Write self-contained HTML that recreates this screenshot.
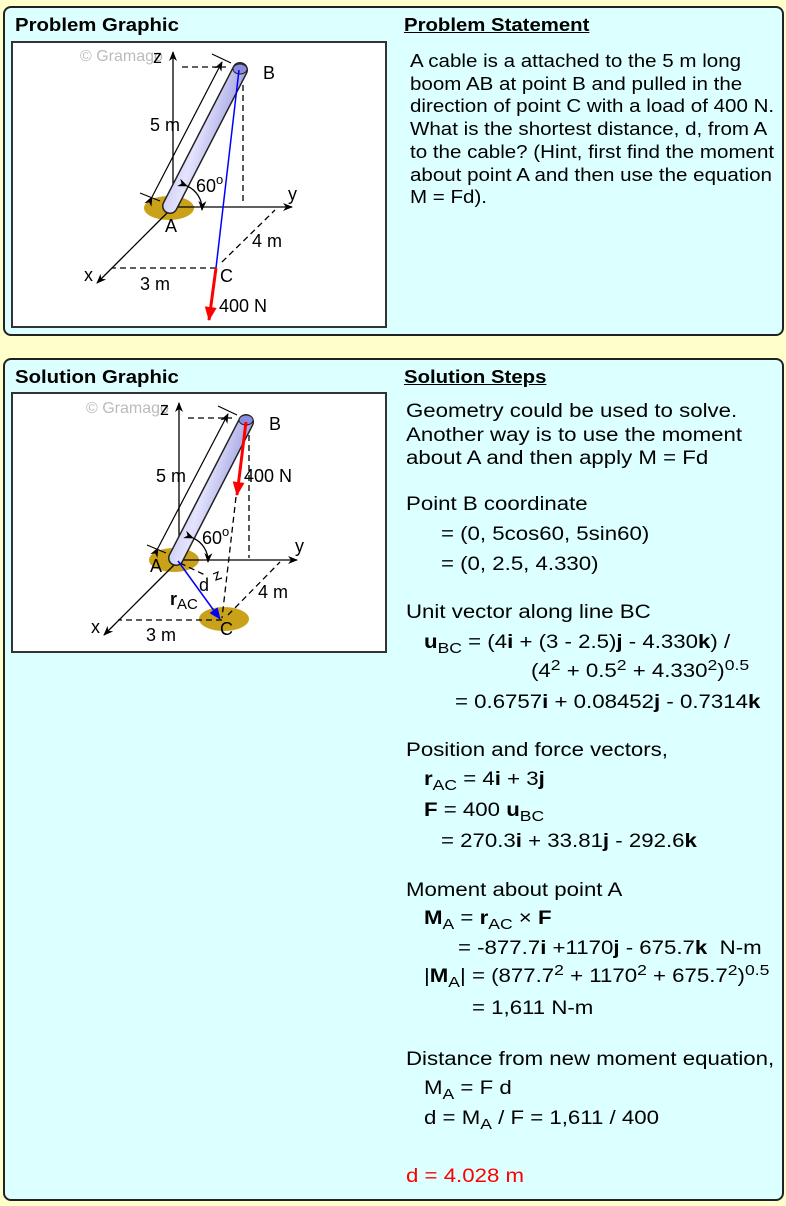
<!DOCTYPE html>
<html><head><meta charset="utf-8"><style>
body{margin:0;width:786px;height:1206px;background:#ffffcc;position:relative;overflow:hidden;font-family:"Liberation Sans",Arial,sans-serif;color:#000}
.p{position:absolute;background:#dcffff;border:2px solid #222;border-radius:8px;box-sizing:border-box}
.h{position:absolute;font-weight:bold;font-size:18px;line-height:20px;white-space:nowrap;transform:scaleX(1.13);transform-origin:0 0}
.u{text-decoration:underline}
.l{position:absolute;font-size:19px;line-height:22px;white-space:nowrap;transform:scaleX(1.17);transform-origin:0 0}
.ps{transform:scaleX(1.11)}
sub{font-size:15px;vertical-align:-5px;line-height:0}
sup{font-size:15px;vertical-align:7px;line-height:0}
.box{position:absolute;background:#fff;border:2px solid #333;box-sizing:border-box}
svg{position:absolute;left:0;top:0}
</style></head><body>
<div class="p" style="left:3px;top:6px;width:781px;height:330px"></div>
<div class="p" style="left:3px;top:358px;width:781px;height:843px"></div>
<div class="h" style="left:15px;top:15px">Problem Graphic</div>
<div class="h u" style="left:404px;top:15px">Problem Statement</div>
<div class="h" style="left:15px;top:367px">Solution Graphic</div>
<div class="h u" style="left:404px;top:367px">Solution Steps</div>
<div class="box" style="left:11px;top:41px;width:376px;height:287px"></div>
<div class="box" style="left:11px;top:392px;width:376px;height:261px"></div>

<svg width="786" height="1206" viewBox="0 0 786 1206" font-family="Liberation Sans, Arial, sans-serif" font-size="18">
<defs>
<marker id="ak" markerWidth="10" markerHeight="8" refX="9" refY="4" orient="auto" markerUnits="userSpaceOnUse"><path d="M0,0 L10,4 L0,8 L3,4z" fill="#000"/></marker>
<marker id="ar" markerWidth="14" markerHeight="12" refX="13" refY="6" orient="auto" markerUnits="userSpaceOnUse"><path d="M0,0 L14,6 L0,12z" fill="#f00"/></marker>
<marker id="ab" markerWidth="12" markerHeight="10" refX="11" refY="5" orient="auto" markerUnits="userSpaceOnUse"><path d="M0,0 L12,5 L0,10z" fill="#00f"/></marker>
<linearGradient id="rod" x1="0" y1="0" x2="1" y2="0.5"><stop offset="0" stop-color="#b0b0e8"/><stop offset="0.5" stop-color="#e4e4ff"/><stop offset="1" stop-color="#9090d8"/></linearGradient>
</defs>
<!-- Problem graphic -->
<g>
<text x="80" y="61" fill="#bbb" font-size="16">© Gramago</text>
<ellipse cx="169" cy="208" rx="25" ry="12" fill="#c9a21a"/>
<line x1="173" y1="207" x2="173" y2="52" stroke="#000" stroke-width="1.3" marker-end="url(#ak)"/>
<line x1="173" y1="207" x2="292" y2="207" stroke="#000" stroke-width="1.3" marker-end="url(#ak)"/>
<line x1="170" y1="210" x2="97" y2="283" stroke="#000" stroke-width="1.3" marker-end="url(#ak)"/>
<text x="153" y="63">z</text>
<text x="288" y="200">y</text>
<text x="84" y="281">x</text>
<g stroke="#000" stroke-width="1.3" stroke-dasharray="6,4" fill="none">
<line x1="182" y1="67" x2="226" y2="67"/>
<line x1="243" y1="85" x2="243" y2="205"/>
<line x1="216" y1="268" x2="112" y2="268"/>
<line x1="222" y1="262" x2="275" y2="210"/>
</g>
<line x1="152" y1="197" x2="222" y2="62" stroke="#000" stroke-width="1.2" marker-end="url(#ak)" marker-start="url(#ak)"/>
<line x1="140" y1="193" x2="160" y2="201" stroke="#000" stroke-width="1.2"/>
<line x1="212" y1="54" x2="231" y2="63" stroke="#000" stroke-width="1.2"/>
<line x1="170" y1="206" x2="240" y2="70" stroke="#222" stroke-width="16" stroke-linecap="round"/>
<line x1="170" y1="206" x2="240" y2="70" stroke="url(#rod)" stroke-width="13" stroke-linecap="round"/>
<ellipse cx="240" cy="69" rx="7" ry="5" fill="#8c8ce0" stroke="#222"/>
<path d="M187,186 A25,25 0 0 1 202,210" fill="none" stroke="#000" stroke-width="1.3" marker-end="url(#ak)" marker-start="url(#ak)"/>
<text x="196" y="192">60</text><text x="216" y="184" font-size="13">o</text>
<line x1="239" y1="70" x2="216" y2="268" stroke="#00f" stroke-width="1.5"/>
<line x1="216" y1="268" x2="209" y2="320" stroke="#f00" stroke-width="3" marker-end="url(#ar)"/>
<text x="263" y="79">B</text>
<text x="165" y="232">A</text>
<text x="220" y="282">C</text>
<text x="150" y="131">5 m</text>
<text x="252" y="247">4 m</text>
<text x="140" y="290">3 m</text>
<text x="219" y="312">400 N</text>
</g>
<!-- Solution graphic -->
<g>
<text x="86" y="413" fill="#bbb" font-size="16">© Gramago</text>
<ellipse cx="174" cy="560" rx="25" ry="12" fill="#c9a21a"/>
<ellipse cx="224" cy="619" rx="25" ry="12" fill="#c9a21a"/>
<line x1="179" y1="560" x2="179" y2="403" stroke="#000" stroke-width="1.3" marker-end="url(#ak)"/>
<line x1="179" y1="560" x2="297" y2="560" stroke="#000" stroke-width="1.3" marker-end="url(#ak)"/>
<line x1="176" y1="563" x2="104" y2="635" stroke="#000" stroke-width="1.3" marker-end="url(#ak)"/>
<text x="160" y="415">z</text>
<text x="295" y="552">y</text>
<text x="91" y="633">x</text>
<g stroke="#000" stroke-width="1.3" stroke-dasharray="6,4" fill="none">
<line x1="188" y1="418" x2="232" y2="418"/>
<line x1="249" y1="435" x2="249" y2="558"/>
<line x1="222" y1="620" x2="118" y2="620"/>
<line x1="228" y1="615" x2="280" y2="562"/>
<line x1="236" y1="497" x2="222" y2="618"/>
<line x1="180" y1="563" x2="205" y2="575"/>
</g>
<path d="M213,574 L218,572 L216,580 L222,578" fill="none" stroke="#000" stroke-width="1.2"/>
<line x1="158" y1="548" x2="228" y2="414" stroke="#000" stroke-width="1.2" marker-end="url(#ak)" marker-start="url(#ak)"/>
<line x1="147" y1="545" x2="166" y2="553" stroke="#000" stroke-width="1.2"/>
<line x1="218" y1="406" x2="237" y2="415" stroke="#000" stroke-width="1.2"/>
<line x1="176" y1="558" x2="246" y2="422" stroke="#222" stroke-width="16" stroke-linecap="round"/>
<line x1="176" y1="558" x2="246" y2="422" stroke="url(#rod)" stroke-width="13" stroke-linecap="round"/>
<ellipse cx="246" cy="420" rx="7" ry="5" fill="#8c8ce0" stroke="#222"/>
<path d="M193,538 A25,25 0 0 1 208,562" fill="none" stroke="#000" stroke-width="1.3" marker-end="url(#ak)" marker-start="url(#ak)"/>
<text x="202" y="544">60</text><text x="222" y="536" font-size="13">o</text>
<line x1="246" y1="422" x2="237" y2="495" stroke="#f00" stroke-width="3" marker-end="url(#ar)"/>
<line x1="178" y1="561" x2="220" y2="619" stroke="#00f" stroke-width="1.5" marker-end="url(#ab)"/>
<text x="269" y="430">B</text>
<text x="150" y="572">A</text>
<text x="220" y="635">C</text>
<text x="156" y="482">5 m</text>
<text x="258" y="598">4 m</text>
<text x="146" y="641">3 m</text>
<text x="244" y="482">400 N</text>
<text x="199" y="591">d</text>
<text x="170" y="605" font-weight="bold">r</text><text x="177" y="609" font-size="15">AC</text>
</g>
</svg>

<div class="l ps" style="left:410px;top:50px;line-height:22.7px;font-size:18.5px">A cable is a attached to the 5 m long<br>boom AB at point B and pulled in the<br>direction of point C with a load of 400 N.<br>What is the shortest distance, d, from A<br>to the cable? (Hint, first find the moment<br>about point A and then use the equation<br>M = Fd).</div>

<div class="l" style="left:406px;top:400px;line-height:23.5px">Geometry could be used to solve.<br>Another way is to use the moment<br>about A and then apply M = Fd</div>
<div class="l" style="left:406px;top:494px">Point B coordinate</div>
<div class="l" style="left:441px;top:524px">= (0, 5cos60, 5sin60)</div>
<div class="l" style="left:441px;top:554px">= (0, 2.5, 4.330)</div>
<div class="l" style="left:406px;top:602px">Unit vector along line BC</div>
<div class="l" style="left:424px;top:632px"><b>u</b><sub>BC</sub> = (4<b>i</b> + (3 - 2.5)<b>j</b> - 4.330<b>k</b>) /</div>
<div class="l" style="left:531px;top:661px">(4<sup>2</sup> + 0.5<sup>2</sup> + 4.330<sup>2</sup>)<sup>0.5</sup></div>
<div class="l" style="left:455px;top:692px">= 0.6757<b>i</b> + 0.08452<b>j</b> - 0.7314<b>k</b></div>
<div class="l" style="left:406px;top:740px">Position and force vectors,</div>
<div class="l" style="left:424px;top:769px"><b>r</b><sub>AC</sub> = 4<b>i</b> + 3<b>j</b></div>
<div class="l" style="left:424px;top:800px"><b>F</b> = 400 <b>u</b><sub>BC</sub></div>
<div class="l" style="left:441px;top:831px">= 270.3<b>i</b> + 33.81<b>j</b> - 292.6<b>k</b></div>
<div class="l" style="left:406px;top:880px">Moment about point A</div>
<div class="l" style="left:424px;top:908px"><b>M</b><sub>A</sub> = <b>r</b><sub>AC</sub> × <b>F</b></div>
<div class="l" style="left:458px;top:938px">= -877.7<b>i</b> +1170<b>j</b> - 675.7<b>k</b>&nbsp; N-m</div>
<div class="l" style="left:424px;top:966px">|<b>M</b><sub>A</sub>| = (877.7<sup>2</sup> + 1170<sup>2</sup> + 675.7<sup>2</sup>)<sup>0.5</sup></div>
<div class="l" style="left:472px;top:998px">= 1,611 N-m</div>
<div class="l" style="left:406px;top:1049px">Distance from new moment equation,</div>
<div class="l" style="left:424px;top:1078px">M<sub>A</sub> = F d</div>
<div class="l" style="left:424px;top:1108px">d = M<sub>A</sub> / F = 1,611 / 400</div>
<div class="l" style="left:406px;top:1166px;color:#f00">d = 4.028 m</div>
</body></html>
